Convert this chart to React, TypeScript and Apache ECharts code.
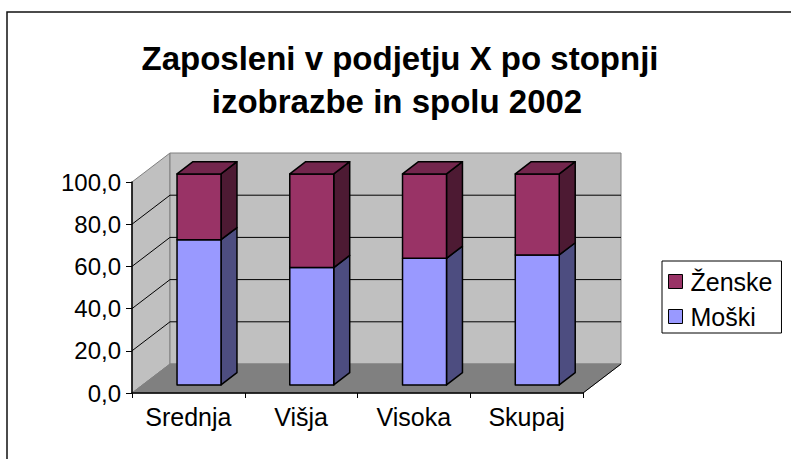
import React, { useEffect, useRef } from "react";
import * as echarts from "echarts";

const categories = ["Srednja", "Višja", "Visoka", "Skupaj"];
const moski = [68.8, 55.6, 60.0, 61.6];
const zenske = [31.2, 44.4, 40.0, 38.4];
const yTicks = [0, 20, 40, 60, 80, 100];
const titleLines = ["Zaposleni v podjetju X po stopnji", "izobrazbe in spolu 2002"];

const FONT = 'Arial, "Liberation Sans", sans-serif';
const DX = 38;
const DY = -29;
const F1 = 0.28;
const F2 = 0.7;
const BAR = 0.39;

function barRenderer(front: string, side: string, top: string) {
  return (params: any, api: any) => {
    const cat = api.value(0);
    const base = api.value(1);
    const val = api.value(2);
    const isTop = api.value(3);
    const p0 = api.coord([cat, base]);
    const p1 = api.coord([cat, val]);
    const hw = (api.size([1, 0])[0] * BAR) / 2;
    const xl = p0[0] - hw;
    const xr = p0[0] + hw;
    const yb = p0[1];
    const yt = p1[1];
    const ox1 = DX * F1, oy1 = DY * F1, ox2 = DX * F2, oy2 = DY * F2;
    const st = { stroke: "#000", lineWidth: 1.5, lineJoin: "round" };
    const children: any[] = [
      {
        type: "polygon",
        shape: { points: [[xr + ox1, yt + oy1], [xr + ox2, yt + oy2], [xr + ox2, yb + oy2], [xr + ox1, yb + oy1]] },
        style: { fill: side, ...st },
      },
      {
        type: "rect",
        shape: { x: xl + ox1, y: yt + oy1, width: xr - xl, height: yb - yt },
        style: { fill: front, ...st },
      },
    ];
    if (isTop) {
      children.push({
        type: "polygon",
        shape: { points: [[xl + ox1, yt + oy1], [xl + ox2, yt + oy2], [xr + ox2, yt + oy2], [xr + ox1, yt + oy1]] },
        style: { fill: top, ...st },
      });
    }
    return { type: "group", children };
  };
}

function wallsRenderer(params: any, api: any) {
  const cs = params.coordSys;
  const x0 = cs.x;
  const x1 = cs.x + cs.width;
  const y0 = api.coord([0, yTicks[0]])[1];
  const y100 = api.coord([0, yTicks[yTicks.length - 1]])[1];
  const children: any[] = [
    {
      type: "polygon",
      shape: { points: [[x0, y100], [x0 + DX, y100 + DY], [x0 + DX, y0 + DY], [x0, y0]] },
      style: { fill: "#C0C0C0", stroke: "#808080", lineWidth: 1 },
    },
    {
      type: "rect",
      shape: { x: x0 + DX, y: y100 + DY, width: x1 - x0, height: y0 - y100 },
      style: { fill: "#C0C0C0", stroke: "#808080", lineWidth: 1 },
    },
    {
      type: "polygon",
      shape: { points: [[x0, y0], [x0 + DX, y0 + DY], [x1 + DX, y0 + DY], [x1, y0]] },
      style: { fill: "#808080", stroke: "#808080", lineWidth: 1 },
    },
    {
      type: "line",
      shape: { x1: x1, y1: y0, x2: x1 + DX, y2: y0 + DY },
      style: { stroke: "#000", lineWidth: 1 },
    },
  ];
  yTicks.slice(1, yTicks.length - 1).forEach((t) => {
    const y = api.coord([0, t])[1];
    children.push({
      type: "line",
      shape: { x1: x0 + DX, y1: y + DY, x2: x1 + DX, y2: y + DY },
      style: { stroke: "#000", lineWidth: 1 },
    });
    children.push({
      type: "line",
      shape: { x1: x0, y1: y, x2: x0 + DX, y2: y + DY },
      style: { stroke: "#000", lineWidth: 1 },
    });
  });
  return { type: "group", children };
}

export default function App() {
  const ref = useRef<HTMLDivElement>(null);
  useEffect(() => {
    if (!ref.current) return;
    const chart = echarts.init(ref.current, null, { renderer: "svg" });
    chart.setOption({
      animation: false,
      backgroundColor: "#fff",
      textStyle: { fontFamily: FONT },
      grid: { left: 132, top: 182, right: 208, bottom: 66 },
      graphic: [
        {
          type: "rect",
          z: 0,
          shape: { x: 7, y: 12, width: 800, height: 470 },
          style: { fill: "none", stroke: "#111", lineWidth: 1.5 },
        },
        {
          type: "text",
          x: 400,
          y: 58,
          style: { text: titleLines[0], font: `bold 33px ${FONT}`, fill: "#000", textAlign: "center", textVerticalAlign: "middle" },
        },
        {
          type: "text",
          x: 397,
          y: 101,
          style: { text: titleLines[1], font: `bold 33px ${FONT}`, fill: "#000", textAlign: "center", textVerticalAlign: "middle" },
        },
      ],
      legend: {
        data: ["Ženske", "Moški"],
        orient: "vertical",
        left: 662,
        top: 261,
        padding: [8, 9, 4, 6],
        itemGap: 10,
        itemWidth: 14,
        itemHeight: 14,
        icon: "rect",
        borderColor: "#000",
        borderWidth: 1,
        backgroundColor: "#fff",
        itemStyle: { borderColor: "#000", borderWidth: 1 },
        textStyle: { fontSize: 25, fontFamily: FONT, color: "#000", padding: [0, 0, 0, 3] },
      },
      xAxis: {
        type: "category",
        data: categories,
        z: 10,
        axisLine: { show: true, lineStyle: { color: "#000", width: 1.5 } },
        axisTick: { show: true, length: 5, lineStyle: { color: "#000", width: 1 } },
        axisLabel: { fontSize: 25, color: "#000", margin: 11, fontFamily: FONT },
        splitLine: { show: false },
      },
      yAxis: {
        type: "value",
        min: yTicks[0],
        max: yTicks[yTicks.length - 1],
        interval: 20,
        z: 10,
        axisLine: { show: true, lineStyle: { color: "#000", width: 1.5 } },
        axisTick: { show: true, length: 6, lineStyle: { color: "#000", width: 1 } },
        axisLabel: {
          fontSize: 24,
          color: "#000",
          margin: 11,
          fontFamily: FONT,
          formatter: (v: number) => v.toFixed(1).replace(".", ","),
        },
        splitLine: { show: false },
      },
      series: [
        {
          name: "walls",
          type: "custom",
          silent: true,
          z: 1,
          renderItem: wallsRenderer,
          encode: { x: 0, y: 1 },
          data: [[0, 0]],
        },
        {
          name: "Moški",
          type: "custom",
          z: 2,
          itemStyle: { color: "#9999FF" },
          renderItem: barRenderer("#9999FF", "#4D4D80", "#7373BF"),
          encode: { x: 0, y: [1, 2] },
          data: moski.map((v, i) => [i, 0, v, 0]),
        },
        {
          name: "Ženske",
          type: "custom",
          z: 2,
          itemStyle: { color: "#993366" },
          renderItem: barRenderer("#993366", "#4D1A33", "#73264D"),
          encode: { x: 0, y: [1, 2] },
          data: zenske.map((v, i) => [i, moski[i], moski[i] + v, 1]),
        },
      ],
    });
    return () => chart.dispose();
  }, []);
  return (
    <div
      ref={ref}
      style={{ position: "fixed", left: 0, top: 0, width: 791, height: 459, background: "#fff" }}
    />
  );
}
